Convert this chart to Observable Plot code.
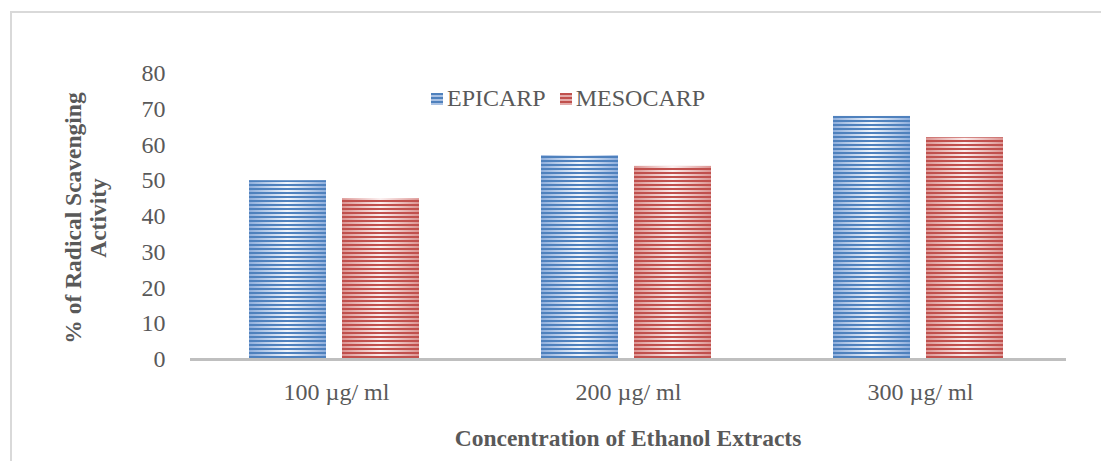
<!DOCTYPE html>
<html>
<head>
<meta charset="utf-8">
<script src="https://cdn.jsdelivr.net/npm/d3@7"></script>
<script src="https://cdn.jsdelivr.net/npm/@observablehq/plot@0.6"></script>
<style>
  html, body { margin: 0; padding: 0; background: #fff; overflow: hidden; }
  #wrap { position: relative; width: 1101px; height: 461px; font-family: "Liberation Serif", "Times New Roman", serif; color: #595959; }
  #frame { position: absolute; left: 10px; top: 11px; width: 1200px; height: 600px; border-top: 2px solid #d9d9d9; border-left: 2px solid #d9d9d9; }
  #chart { position: absolute; left: 0; top: 0; }
  .lab { position: absolute; font-weight: bold; font-size: 23.5px; color: #595959; white-space: nowrap; }
  #legend { position: absolute; left: 431px; top: 85px; font-size: 24px; display: flex; align-items: center; white-space: nowrap; }
  #legend .sw { width: 12px; height: 12px; display: inline-block; margin-right: 4px; }
  #legend .item { display: flex; align-items: center; margin-right: 14px; }
</style>
</head>
<body>
<svg width="0" height="0" style="position:absolute">
  <defs>
    <linearGradient id="epiGrad" x1="0" x2="1" y1="0" y2="0">
      <stop offset="0" stop-color="#8eaedc"/>
      <stop offset="0.5" stop-color="#f2f6fc"/>
      <stop offset="1" stop-color="#8eaedc"/>
    </linearGradient>
    <linearGradient id="mesoGrad" x1="0" x2="1" y1="0" y2="0">
      <stop offset="0" stop-color="#dc9492"/>
      <stop offset="0.5" stop-color="#fbefef"/>
      <stop offset="1" stop-color="#dc9492"/>
    </linearGradient>
    <pattern id="epiStripe" patternUnits="userSpaceOnUse" width="8" height="4">
      <rect x="0" y="0" width="8" height="2" fill="#4f81bd"/>
    </pattern>
    <pattern id="mesoStripe" patternUnits="userSpaceOnUse" width="8" height="4">
      <rect x="0" y="0" width="8" height="2" fill="#c0504d"/>
    </pattern>
  </defs>
</svg>
<div id="wrap">
  <div id="frame"></div>
  <div id="chart"></div>
  <div id="legend"></div>
  <div class="lab" id="xlab" style="left:628px; top:438px; transform: translate(-50%,-50%);">Concentration of Ethanol Extracts</div>
  <div class="lab" id="ylab" style="left:86px; top:218px; transform: translate(-50%,-50%) rotate(-90deg); text-align:center; line-height:25px;">% of Radical Scavenging<br>Activity</div>
</div>
<script>
const concentrations = ["100 µg/ ml", "200 µg/ ml", "300 µg/ ml"];
const series = ["EPICARP", "MESOCARP"];
const epicarp = [50, 57, 68];
const mesocarp = [45, 54, 62];
const yTicks = [0, 10, 20, 30, 40, 50, 60, 70, 80];

const seriesValues = {EPICARP: epicarp, MESOCARP: mesocarp};
const data = [];
concentrations.forEach((c, i) => series.forEach(s => data.push({conc: c, series: s, value: seriesValues[s][i]})));
const epiData = data.filter(d => d.series === "EPICARP");
const mesoData = data.filter(d => d.series === "MESOCARP");

const chart = Plot.plot({
  width: 1101,
  height: 461,
  marginTop: 73,
  marginBottom: 102,
  marginLeft: 190,
  marginRight: 35,
  style: {fontFamily: "'Liberation Serif', 'Times New Roman', serif", fontSize: "24px", color: "#595959", background: "transparent"},
  fx: {domain: concentrations, padding: 0, tickSize: 0, tickPadding: 23, label: null},
  x: {domain: series, paddingInner: 0.17, paddingOuter: 0.64, axis: null},
  y: {domain: [0, 80], ticks: yTicks, tickSize: 0, tickPadding: 25, label: null, grid: false},
  marks: [
    Plot.barY(epiData, {fx: "conc", x: "series", y: "value", fill: "url(#epiGrad)", dx: -2}),
    Plot.barY(epiData, {fx: "conc", x: "series", y: "value", fill: "url(#epiStripe)", dx: -2}),
    Plot.barY(mesoData, {fx: "conc", x: "series", y: "value", fill: "url(#mesoGrad)", dx: -2}),
    Plot.barY(mesoData, {fx: "conc", x: "series", y: "value", fill: "url(#mesoStripe)", dx: -2}),
    Plot.ruleY([0], {stroke: "#bfbfbf", strokeWidth: 3})
  ]
});
document.getElementById("chart").appendChild(chart);

const legend = document.getElementById("legend");
const swatchBg = {
  EPICARP: "repeating-linear-gradient(to bottom, #4f81bd 0 2px, #a9c1e3 2px 4px)",
  MESOCARP: "repeating-linear-gradient(to bottom, #c0504d 0 2px, #e3aaa9 2px 4px)"
};
series.forEach(s => {
  const item = document.createElement("span");
  item.className = "item";
  const sw = document.createElement("span");
  sw.className = "sw";
  sw.style.background = swatchBg[s];
  item.appendChild(sw);
  item.appendChild(document.createTextNode(s));
  legend.appendChild(item);
});
</script>
</body>
</html>
